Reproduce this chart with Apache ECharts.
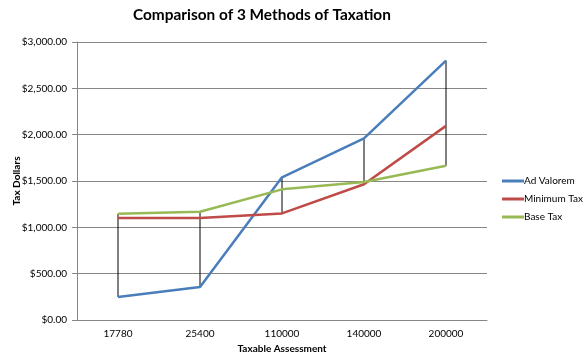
<!DOCTYPE html>
<html>
<head>
<meta charset="utf-8">
<script src="https://cdn.jsdelivr.net/npm/echarts@6/dist/echarts.min.js"></script>
<style>html,body{margin:0;padding:0;background:#fff;}#c{width:583px;height:356px;}</style>
</head>
<body>
<div id="c"></div>
<script>
const categories = ['17780', '25400', '110000', '140000', '200000'];
const adValorem = [249, 356, 1540, 1960, 2800];
const minimumTax = [1100, 1100, 1150, 1465, 2095];
const baseTax = [1147, 1169, 1410, 1490, 1665];
const yTicks = [0, 500, 1000, 1500, 2000, 2500, 3000];

const hiLo = categories.map((c, i) => {
  const v = [adValorem[i], minimumTax[i], baseTax[i]];
  return [i, Math.min(...v), Math.max(...v)];
});

const font = 'Lato, "Open Sans", sans-serif';
const chart = echarts.init(document.getElementById('c'));
chart.setOption({
  animation: false,
  backgroundColor: '#ffffff',
  title: {
    text: 'Comparison of 3 Methods of Taxation',
    left: 133, top: 8, padding: 0,
    textStyle: { fontFamily: font, fontSize: 15.4, fontWeight: 'bold', color: '#000' }
  },
  legend: {
    orient: 'vertical', left: 502, top: 175, itemGap: 6, padding: 0,
    itemWidth: 22, itemHeight: 3, icon: 'rect',
    data: ['Ad Valorem', 'Minimum Tax', 'Base Tax'],
    textStyle: { fontFamily: font, fontSize: 10, lineHeight: 12, color: '#000', padding: [0, 0, 0, -5], overflow: 'none', width: 80 }
  },
  grid: { left: 77, right: 96, top: 42, bottom: 36, containLabel: false, outerBoundsMode: 'none' },
  xAxis: {
    type: 'category', data: categories, boundaryGap: true,
    name: 'Taxable Assessment', nameLocation: 'middle', nameGap: 24, nameMoveOverlap: false,
    nameTextStyle: { fontFamily: font, fontSize: 10, fontWeight: 'bold', color: '#000' },
    axisLine: { lineStyle: { color: '#868686' } },
    axisTick: { show: false },
    axisLabel: { fontFamily: font, fontSize: 10, color: '#000', margin: 9 }
  },
  yAxis: {
    type: 'value', min: 0, max: 3000, interval: 500,
    name: 'Tax Dollars', nameLocation: 'middle', nameGap: 55, nameRotate: 90, nameMoveOverlap: false,
    nameTextStyle: { fontFamily: font, fontSize: 10, fontWeight: 'bold', color: '#000' },
    axisLine: { show: true, lineStyle: { color: '#868686' } },
    axisTick: { show: true, length: 5, lineStyle: { color: '#868686' } },
    splitLine: { lineStyle: { color: '#868686', width: 1 } },
    axisLabel: {
      fontFamily: font, fontSize: 10, color: '#000', margin: 10,
      formatter: v => '$' + v.toLocaleString('en-US', { minimumFractionDigits: 2, maximumFractionDigits: 2 })
    }
  },
  series: [
    {
      type: 'custom', name: 'hilo', silent: true, z: 1,
      data: hiLo,
      renderItem: (params, api) => {
        const p1 = api.coord([api.value(0), api.value(1)]);
        const p2 = api.coord([api.value(0), api.value(2)]);
        return { type: 'line', shape: { x1: p1[0], y1: p1[1], x2: p2[0], y2: p2[1] },
                 style: { stroke: '#000', lineWidth: 1 } };
      }
    },
    { name: 'Ad Valorem', type: 'line', data: adValorem, symbol: 'none', z: 3,
      lineStyle: { color: '#4A7EBB', width: 2.5 }, itemStyle: { color: '#4A7EBB' } },
    { name: 'Minimum Tax', type: 'line', data: minimumTax, symbol: 'none', z: 3,
      lineStyle: { color: '#BE4B48', width: 2.5 }, itemStyle: { color: '#BE4B48' } },
    { name: 'Base Tax', type: 'line', data: baseTax, symbol: 'none', z: 3,
      lineStyle: { color: '#98B954', width: 2.5 }, itemStyle: { color: '#98B954' } }
  ]
});
</script>
</body>
</html>
